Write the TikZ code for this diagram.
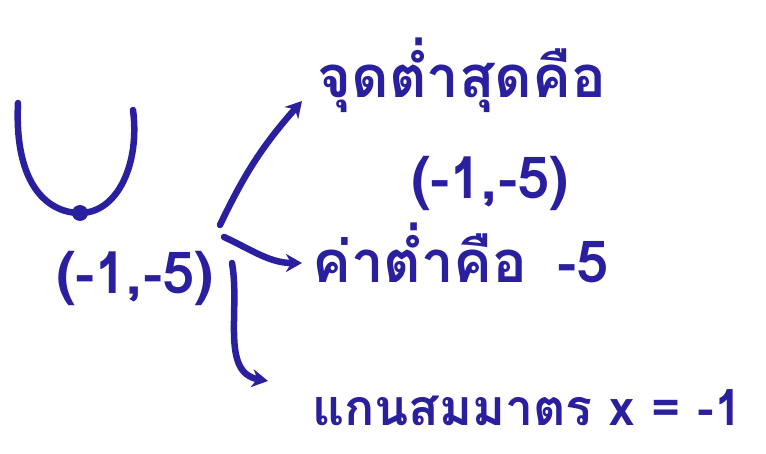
\documentclass[tikz,border=0pt]{standalone}
\usepackage{fontspec}
\newfontfamily\thaifont[Script=Thai]{Loma}
\usetikzlibrary{arrows.meta}
\definecolor{ink}{HTML}{2A1F9E}
\begin{document}
\begin{tikzpicture}[x=1pt,y=1pt,
  txt/.style={text=ink,font=\thaifont\bfseries\fontsize{58}{60}\selectfont,inner sep=0pt},
  small/.style={font=\thaifont\bfseries\fontsize{50}{52}\selectfont},
  pen/.style={draw=ink,line width=6.5pt,line cap=round},
  arr/.style={pen,-{Stealth[length=16pt,width=18pt]}}]
\useasboundingbox (0,0) rectangle (766,453);
\fill[white] (0,0) rectangle (766,453);
% parabola
\coordinate (pl) at (18,350);
\coordinate (pr) at (133,343);
\node[circle,fill=ink,minimum size=16pt,inner sep=0pt] (v) at (80,240) {};
\draw[pen] (pl) .. controls (14,265) and (50,240) .. (v.center)
           .. controls (118,240) and (140,290) .. (pr);
\node[txt] (pt) at (135,175) {(-1,-5)};
% texts
\node[txt] (n1) at (462,378) {จุดต่ำสุดคือ};
\node[txt] (n1b) at (490,270) {(-1,-5)};
\node[txt,anchor=west] (n2) at (312,200) {ค่าต่ำคือ\hspace{30pt}-5};
\node[txt,small,anchor=west] (n3) at (312,45) {แกนสมมาตร x = -1};
% arrows
\coordinate (s1) at (220,228);
\coordinate (s2) at (224,216);
\coordinate (s3) at (232,190);
\coordinate (e1) at (302,352);
\coordinate (e2) at (302,190);
\coordinate (e3) at (268,72);
\draw[arr] (s1) to[bend left=8] (e1);
\draw[arr] (s2) to[out=-25,in=180] (e2);
\draw[arr] (s3) to[out=-80,in=170] (e3);
\end{tikzpicture}
\end{document}
